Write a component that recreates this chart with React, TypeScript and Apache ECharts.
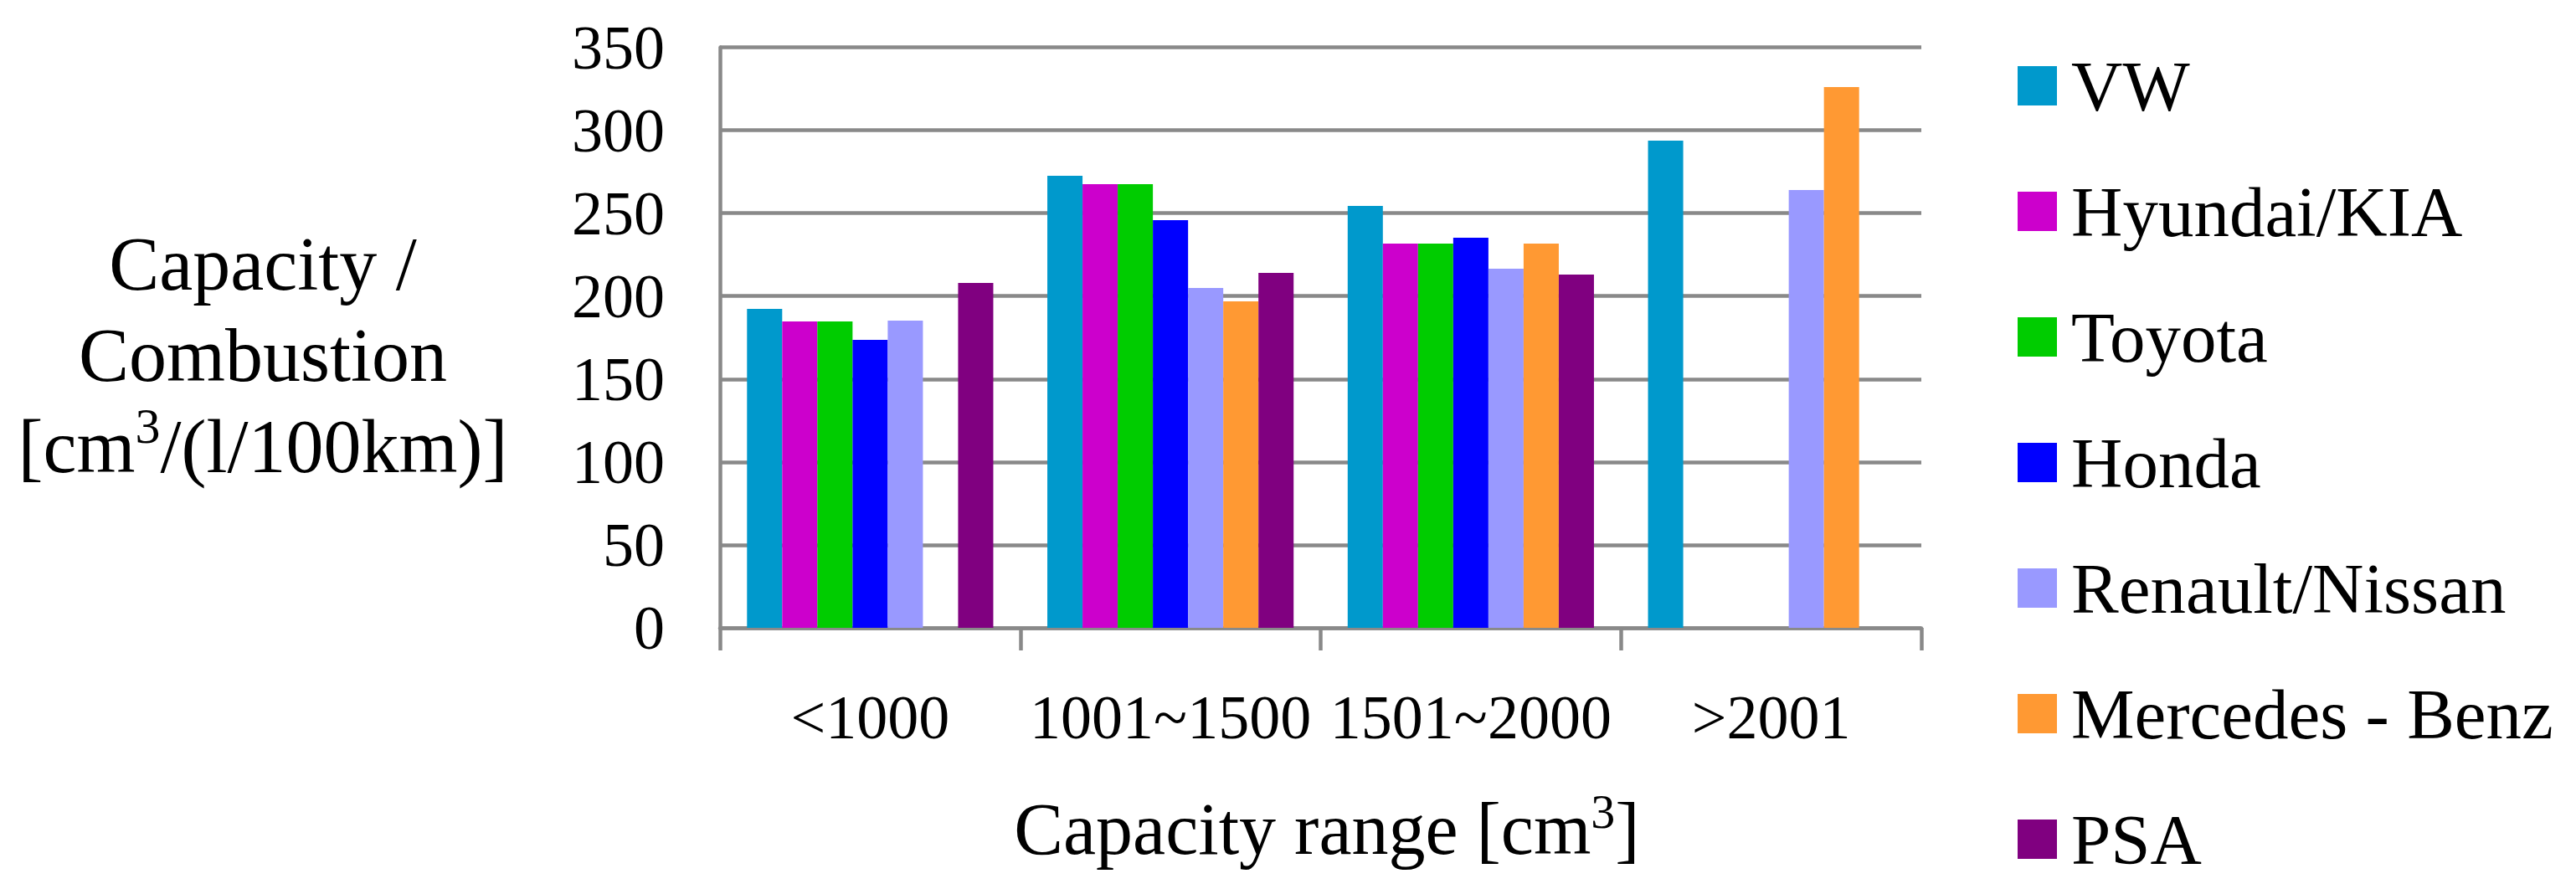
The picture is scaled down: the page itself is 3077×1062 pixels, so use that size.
import React, { useEffect, useRef } from "react";
import * as echarts from "echarts";

const categories = ["<1000", "1001~1500", "1501~2000", ">2001"];
const seriesNames = ["VW", "Hyundai/KIA", "Toyota", "Honda", "Renault/Nissan", "Mercedes - Benz", "PSA"];
const vwValues = [192.3, 272.5, 254.4, 293.7];
const hyundaiValues = [184.7, 267.5, 231.7, null];
const toyotaValues = [184.7, 267.5, 231.7, null];
const hondaValues = [173.6, 245.8, 235.2, null];
const renaultValues = [185.2, 204.9, 216.5, 264];
const mercedesValues = [null, 196.8, 231.7, 326];
const psaValues = [207.9, 214, 213, null];
const seriesColors = ["#0099CC", "#CC00CC", "#00CC00", "#0000FF", "#9999FF", "#FF9933", "#800080"];
const yTicks = { min: 0, max: 350, interval: 50 };

const FONT = "Liberation Serif";
const GRAY = "#898989";

export default function App() {
  const ref = useRef<HTMLDivElement>(null);
  useEffect(() => {
    if (!ref.current) return;
    const chart = echarts.init(ref.current, null, { renderer: "svg" });
    const allValues = [vwValues, hyundaiValues, toyotaValues, hondaValues, renaultValues, mercedesValues, psaValues];
    const option = {
      animation: false,
      backgroundColor: "#ffffff",
      textStyle: { fontFamily: FONT },
      grid: { left: 860, right: 782, top: 56.5, bottom: 312, containLabel: false },
      legend: {
        orient: "vertical",
        left: 2405,
        top: 55,
        padding: 5,
        itemWidth: 47,
        itemHeight: 47,
        itemGap: 65,
        icon: "rect",
        selectedMode: false,
        data: seriesNames,
        textStyle: {
          fontFamily: FONT,
          fontSize: 85,
          color: "#000",
          padding: [0, 0, 0, 12],
        },
      },
      xAxis: {
        type: "category",
        data: categories,
        name: "Capacity range [cm{sup|3}]",
        nameLocation: "middle",
        nameGap: 240,
        nameTextStyle: {
          fontFamily: FONT,
          fontSize: 88,
          lineHeight: 100,
          color: "#000",
          verticalAlign: "middle",
          padding: [0, 0, 0, 15],
          rich: {
            sup: { fontFamily: FONT, fontSize: 58, lineHeight: 72, verticalAlign: "top", color: "#000" },
          },
        },
        axisLine: { show: true, lineStyle: { color: GRAY, width: 4.5 } },
        axisTick: { show: true, interval: 0, length: 27, lineStyle: { color: GRAY, width: 4.5 } },
        axisLabel: {
          interval: 0,
          fontFamily: FONT,
          fontSize: 74,
          color: "#000",
          margin: 107,
          verticalAlign: "middle",
        },
        splitLine: { show: false },
      },
      yAxis: {
        type: "value",
        min: yTicks.min,
        max: yTicks.max,
        interval: yTicks.interval,
        name: "Capacity /\nCombustion\n[cm{sup|3}/(l/100km)]",
        nameLocation: "middle",
        nameRotate: 0,
        nameGap: 546,
        nameTextStyle: {
          fontFamily: FONT,
          fontSize: 90,
          lineHeight: 109,
          color: "#000",
          align: "center",
          verticalAlign: "middle",
          padding: [42, 0, 0, 0],
          rich: {
            sup: { fontFamily: FONT, fontSize: 60, lineHeight: 77, verticalAlign: "top", color: "#000" },
          },
        },
        axisLine: { show: true, lineStyle: { color: GRAY, width: 4.5 } },
        axisTick: { show: false },
        axisLabel: { fontFamily: FONT, fontSize: 74, color: "#000", margin: 66 },
        splitLine: { show: true, lineStyle: { color: GRAY, width: 4.5 } },
      },
      series: seriesNames.map((name, i) => ({
        name,
        type: "bar",
        data: allValues[i],
        barGap: "0%",
        barCategoryGap: "18%",
        itemStyle: { color: seriesColors[i] },
      })),
    };
    chart.setOption(option as any);
    return () => chart.dispose();
  }, []);
  return (
    <div
      ref={ref}
      style={{ position: "fixed", left: 0, top: 0, width: 3077, height: 1062, background: "#fff" }}
    />
  );
}
